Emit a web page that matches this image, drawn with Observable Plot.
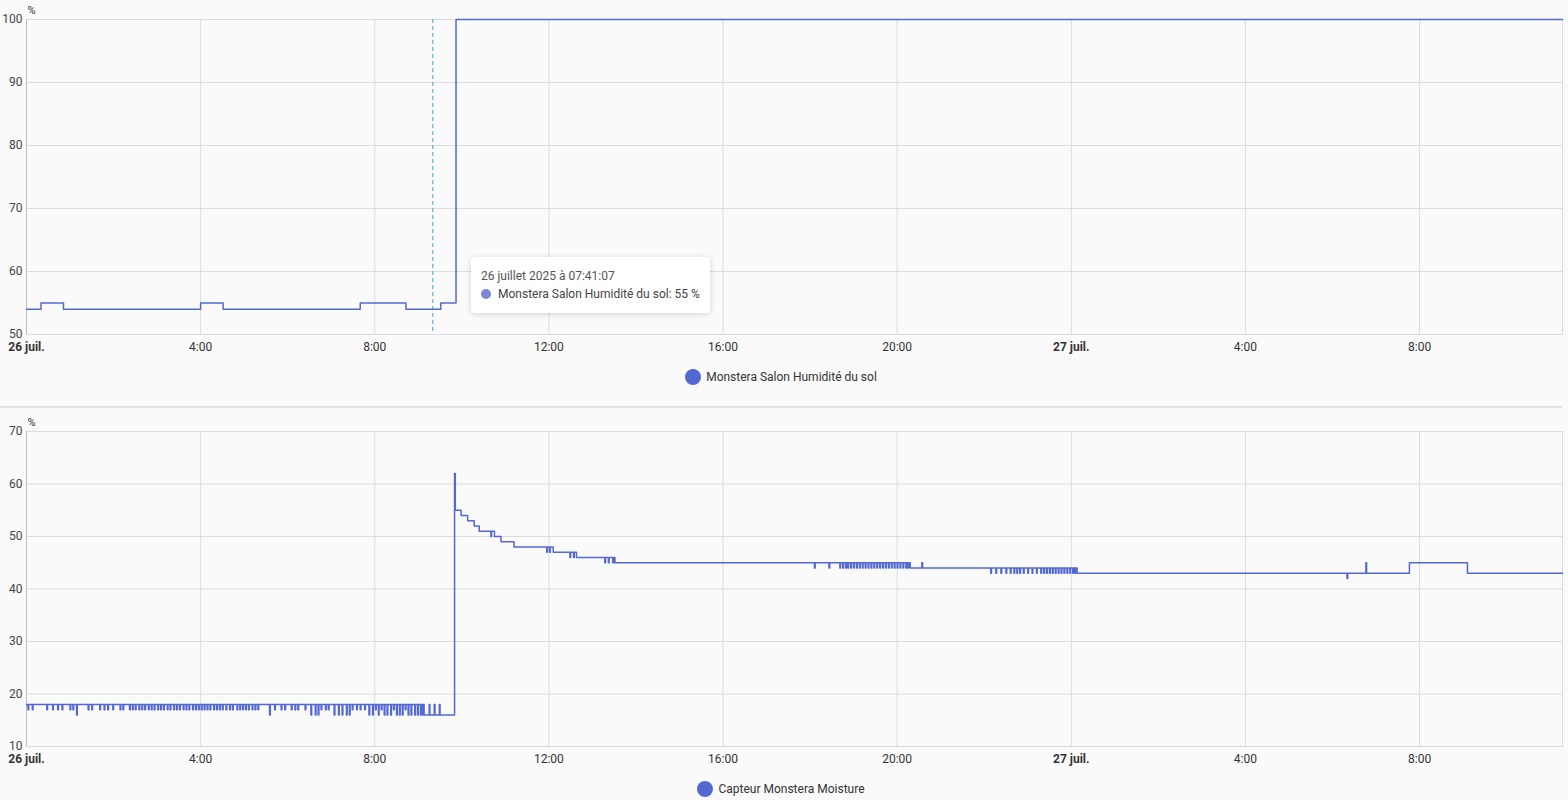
<!DOCTYPE html>
<html>
<head>
<meta charset="utf-8">
<script src="https://cdn.jsdelivr.net/npm/d3@7"></script>
<script src="https://cdn.jsdelivr.net/npm/@observablehq/plot@0.6"></script>
<style>
  body { margin: 0; background: #fafafa; font-family: Roboto, sans-serif; width: 1568px; height: 800px; position: relative; overflow: hidden; }
  .panel { position: absolute; left: 0; }
  .legend { position: absolute; left: 0; width: 1562px; height: 18px; display: flex; justify-content: center; align-items: center; gap: 5px; font-size: 12px; color: #333; }
  .legend .dot { width: 16px; height: 16px; border-radius: 50%; background: #5468d4; }
  .sep { position: absolute; left: 0; top: 406px; width: 1562px; height: 2px; background: #e2e2e2; }
  .tip { position: absolute; left: 471px; top: 257px; width: 239px; height: 56px; box-sizing: border-box; padding: 10px 10px; background: #fff; border-radius: 4px; box-shadow: 0 1px 6px rgba(0,0,0,0.16); font-size: 12px; color: #555; }
  .tip .row { display: flex; align-items: center; height: 18px; }
  .tip .tdot { width: 10px; height: 10px; border-radius: 50%; background: #7b86d6; margin-right: 7px; }
  .tip .val { color: #444; }
</style>
</head>
<body>
<div id="top" class="panel" style="top:0"></div>
<div class="legend" style="top:368px"><span class="dot"></span><span>Monstera Salon Humidité du sol</span></div>
<div class="sep"></div>
<div id="bottom" class="panel" style="top:412px"></div>
<div class="legend" style="top:780px"><span class="dot"></span><span>Capteur Monstera Moisture</span></div>
<div class="tip">
  <div class="row">26 juillet 2025 à 07:41:07</div>
  <div class="row val"><span class="tdot"></span>Monstera Salon Humidité du sol: 55 %</div>
</div>
<script>
// minutes depuis le 26 juil. 00:00
const endMinute = 2117;
const tickMinutes = [0, 240, 480, 720, 960, 1200, 1440, 1680, 1920];
const xTickLabels = ["26 juil.", "4:00", "8:00", "12:00", "16:00", "20:00", "27 juil.", "4:00", "8:00"];
const hoverMinute = 560;

// Monstera Salon Humidité du sol : [minute, %]
const soilSteps = [[0,54],[20,55],[51,54],[240,55],[271,54],[460,55],[523,54],[571,55],[592,100],[2117,100]];
const soilTicks = [50, 60, 70, 80, 90, 100];

// Capteur Monstera Moisture : paliers [minute, %]
const moistureSteps = [[0,18],[548,16],[590,62],[591,55],[599,54],[608,53],[617,52],[624,51],[645,50],[654,49],[672,48],[726,47],[758,46],[811,45],[1218,44],[1448,43],[1906,45],[1986,43],[2117,43]];
// lectures isolées qui s'écartent du palier pendant une minute
const moistureBlips = [
  [2,17],[8,17],[28,17],[36,17],[43,17],[49,17],[60,17],[64,17],[69,16],[85,17],[90,17],[101,17],[107,17],[112,17],[119,17],[129,17],[133,17],
  [142,17],[146,17],[150,17],[155,17],[159,17],[163,17],[168,17],[172,17],[176,17],[181,17],[185,17],[189,17],[194,17],[198,17],[203,17],[207,17],
  [211,17],[216,17],[220,17],[224,17],[229,17],[233,17],[237,17],[241,17],[245,17],[249,17],[253,17],[258,17],[262,17],[266,17],[270,17],[275,17],
  [280,17],[284,17],[290,17],[294,17],[298,17],[302,17],[306,17],[311,17],[315,17],[319,17],
  [335,16],[342,17],[351,17],[356,17],[365,17],[370,17],[374,17],[384,17],[392,16],[398,16],[402,16],[406,17],[412,17],[416,17],[424,16],[430,16],
  [435,16],[441,16],[445,16],[449,17],[455,17],[460,17],[466,17],[472,16],[477,16],[481,17],[485,16],[489,17],[493,16],[497,16],[502,16],[506,17],
  [510,16],[514,16],[518,16],[522,17],[526,16],[530,16],[535,16],[539,16],[543,16],[546,16],
  [555,18],[562,18],[569,18],
  [640,50],
  [717,47],[721,47],
  [749,46],[754,46],
  [797,45],[802,45],[808,45],
  [1086,44],[1106,44],[1121,44],[1125,44],[1129,44],[1132,44],[1136,44],[1140,44],[1144,44],[1148,44],[1152,44],[1156,44],[1160,44],[1164,44],
  [1168,44],[1172,44],[1176,44],[1180,44],[1184,44],[1188,44],[1192,44],[1196,44],[1200,44],[1204,44],[1208,44],[1212,44],[1215,44],
  [1234,45],
  [1329,43],[1336,43],[1343,43],[1350,43],[1356,43],[1361,43],[1365,43],[1369,43],[1374,43],[1380,43],[1386,43],[1392,43],[1398,43],[1402,43],
  [1406,43],[1410,43],[1414,43],[1418,43],[1422,43],[1426,43],[1430,43],[1434,43],[1438,43],[1442,43],[1445,43],
  [1820,42],[1846,45]
];
const moistureTicks = [10, 20, 30, 40, 50, 60, 70];

const start = new Date(2025, 6, 26);
const toDate = m => new Date(start.getTime() + m * 60000);
const tickDates = tickMinutes.map(toDate);

const soilData = soilSteps.map(([m, v]) => ({t: toDate(m), v}));

const levelAt = m => {
  let v = moistureSteps[0][1];
  for (const [sm, sv] of moistureSteps) if (sm <= m) v = sv;
  return v;
};
let moistRaw = moistureSteps.slice();
moistureBlips.forEach(([m, v]) => {
  moistRaw.push([m, v]);
  moistRaw.push([m + 1, levelAt(m)]);
});
moistRaw.sort((a, b) => a[0] - b[0]);
const moistureData = moistRaw.map(([m, v]) => ({t: toDate(m), v}));

function makeChart(data, yTicks, extras) {
  const yDomain = [yTicks[0], yTicks[yTicks.length - 1]];
  const chart = Plot.plot({
    width: 1568,
    height: 362,
    marginLeft: 26,
    marginRight: 6,
    marginTop: 19,
    marginBottom: 28,
    style: {background: "transparent", fontFamily: "Roboto, sans-serif", fontSize: "12px", color: "#333", overflow: "visible"},
    x: {type: "time", domain: [toDate(0), toDate(endMinute)], ticks: tickDates, tickSize: 0, tickPadding: 8, label: null,
        tickFormat: d => xTickLabels[tickDates.findIndex(t => +t === +d)]},
    y: {domain: yDomain, ticks: yTicks, tickSize: 0, tickPadding: 4, label: null},
    marks: [
      Plot.gridX(tickDates, {stroke: "#dcdcdc", strokeOpacity: 1}),
      Plot.gridY(yTicks, {stroke: "#dcdcdc", strokeOpacity: 1}),
      Plot.frame({stroke: "#dcdcdc"}),
      Plot.ruleX([toDate(0)], {stroke: "#bdbdbd"}),
      Plot.text(["%"], {frameAnchor: "top-left", lineAnchor: "bottom", textAnchor: "start", dx: 1, dy: -6, fontSize: 11, fill: "#333"}),
      ...extras,
      Plot.line(data, {x: "t", y: "v", curve: "step-after", stroke: "#5468d4", strokeWidth: 1.5})
    ]
  });
  d3.select(chart).selectAll("text")
    .filter(function () { return this.textContent.includes("juil."); })
    .attr("font-weight", "bold");
  d3.select(chart).selectAll("[aria-label='y-axis tick label']").attr("fill", "#444");
  return chart;
}

const topChart = makeChart(soilData, soilTicks, [
  Plot.ruleX([toDate(hoverMinute)], {stroke: "#4a9bd1", strokeDasharray: "4,3", strokeWidth: 1})
]);
d3.select('#top').append(() => topChart);

const bottomChart = makeChart(moistureData, moistureTicks, []);
d3.select('#bottom').append(() => bottomChart);
</script>
</body>
</html>
